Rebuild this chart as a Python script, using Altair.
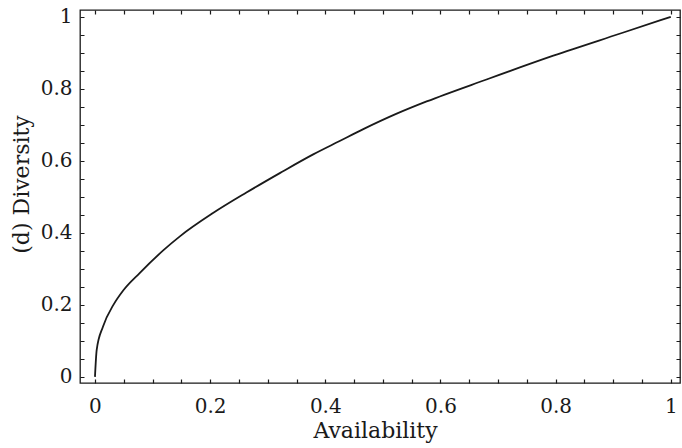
import altair as alt
import pandas as pd

# Values
availability = [0, 0.003, 0.014, 0.032, 0.049, 0.078, 0.119, 0.148, 0.205, 0.263, 0.321,
                0.379, 0.425, 0.466, 0.524, 0.576, 0.68, 0.796, 0.911, 0.981, 1.0]
diversity = [0, 0.075, 0.14, 0.2, 0.24, 0.289, 0.352, 0.391, 0.455, 0.512, 0.566,
             0.618, 0.655, 0.688, 0.731, 0.765, 0.826, 0.892, 0.953, 0.99, 1.0]

# tick positions (labels only at the major ones)
major_ticks = [0, 0.2, 0.4, 0.6, 0.8, 1]
all_ticks = [0, 0.05, 0.1, 0.15, 0.2, 0.25, 0.3, 0.35, 0.4, 0.45, 0.5,
             0.55, 0.6, 0.65, 0.7, 0.75, 0.8, 0.85, 0.9, 0.95, 1]
x_domain = [-0.026, 1.016]
y_domain = [-0.017, 1.019]

df = pd.DataFrame({"Availability": availability, "Diversity": diversity})

FONT = "DejaVu Serif"
INK = "#1a1a1a"
W, H = 600, 373
TICK = 4

label_expr = "indexof([0, 0.2, 0.4, 0.6, 0.8, 1], datum.value) >= 0 ? format(datum.value, '~g') : ''"

x_axis = alt.Axis(orient="bottom", values=all_ticks, labelExpr=label_expr,
                  labelOverlap=False, ticks=False, domain=False,
                  grid=True, gridColor=INK, gridWidth=1.2, gridOpacity=1,
                  gridDash=[TICK, H - 2 * TICK],
                  labelFont=FONT, labelFontSize=20,
                  labelColor=INK, labelPadding=13, title="Availability",
                  titleFont=FONT, titleFontSize=22, titleFontWeight="normal",
                  titleColor=INK, titleX=295, titleY=54,
                  titleBaseline="alphabetic", titleAlign="center")
y_axis = alt.Axis(orient="left", values=all_ticks, labelExpr=label_expr,
                  labelOverlap=False, ticks=False, domain=False,
                  grid=True, gridColor=INK, gridWidth=1.2, gridOpacity=1,
                  gridDash=[TICK, W - 2 * TICK],
                  labelFont=FONT, labelFontSize=20,
                  labelColor=INK, labelPadding=8, title="(d) Diversity",
                  titleFont=FONT, titleFontSize=22, titleFontWeight="normal",
                  titleColor=INK, titleAngle=270, titleX=-52, titleY=174,
                  titleBaseline="alphabetic", titleAlign="center")

chart = alt.Chart(df).mark_line(color=INK, strokeWidth=1.8, interpolate="monotone").encode(
    x=alt.X("Availability:Q", scale=alt.Scale(domain=x_domain, nice=False, zero=False),
            axis=x_axis),
    y=alt.Y("Diversity:Q", scale=alt.Scale(domain=y_domain, nice=False, zero=False),
            axis=y_axis),
).properties(
    width=W, height=H,
    autosize=alt.AutoSizeParams(type="none"),
    padding={"left": 80, "top": 10, "right": 2, "bottom": 65},
    background="white",
).configure_view(stroke=INK, strokeWidth=1.3)

chart.save("out.html", embed_options={"renderer": "svg", "actions": False})
